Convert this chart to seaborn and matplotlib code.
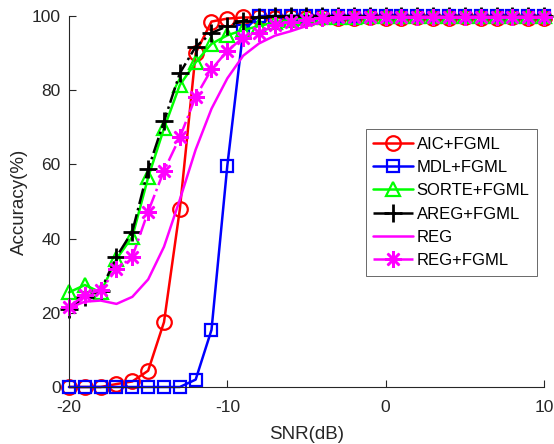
import numpy as np
import pandas as pd
import matplotlib
matplotlib.use("Agg")
import matplotlib.pyplot as plt
import seaborn as sns

# SNR grid (dB)
snr = list(range(-20, 11))

# Detection accuracy (%) of each method
aic_fgml = [0, 0, 0, 0.8, 1.5, 4.4, 17.5, 47.9, 90.0, 98.5, 99.3, 99.6, 99.6, 99.5, 99.6,
            99.5, 99.6, 99.5, 99.5, 99.6, 99.5, 99.5, 99.6, 99.5, 99.5, 99.6, 99.5, 99.5,
            99.6, 99.5, 99.5]
mdl_fgml = [0, 0, 0, 0, 0, 0, 0, 0, 2.0, 15.4, 59.7, 96.0, 100, 100, 100,
            100, 100, 100, 100, 100, 100, 100, 100, 100, 100, 100, 100, 100,
            100, 100, 100]
sorte_fgml = [25.5, 27.5, 25.5, 34.5, 40.5, 56.5, 69.7, 81.4, 87.5, 92.5, 94.8, 96.2, 97.3,
              98.3, 99.0, 99.4, 99.6, 99.8, 99.8, 99.9, 99.9, 99.9, 100, 99.9, 100, 99.9,
              100, 99.9, 100, 100, 99.9]
areg_fgml = [21.0, 24.3, 26.0, 35.1, 41.9, 58.7, 71.6, 84.6, 91.7, 95.4, 97.3, 98.7, 99.6,
             100, 100, 100, 100, 100, 100, 100, 100, 100, 100, 100, 100, 100,
             100, 100, 100, 100, 100]
reg = [21.3, 23.0, 23.3, 22.4, 24.3, 29.0, 37.8, 50.5, 64.0, 75.0, 83.2, 89.3, 92.6, 94.7,
       95.9, 97.3, 98.4, 99.1, 99.5, 99.7, 99.8, 99.8, 99.8, 99.8, 99.8, 99.8, 99.8, 99.8,
       99.8, 99.8, 99.8]
reg_fgml = [21.6, 24.8, 26.1, 31.7, 35.1, 47.3, 58.3, 67.3, 78.2, 85.6, 90.6, 94.2, 95.3,
            97.6, 98.5, 99.0, 99.4, 99.6, 99.7, 99.7, 99.8, 99.7, 99.7, 99.8, 99.7, 99.7,
            99.8, 99.7, 99.7, 99.8, 99.7]

labels = ["AIC+FGML", "MDL+FGML", "SORTE+FGML", "AREG+FGML", "REG", "REG+FGML"]
series = [aic_fgml, mdl_fgml, sorte_fgml, areg_fgml, reg, reg_fgml]

# eight-armed asterisk for the REG+FGML curve
asterisk = (8, 2, 0)

styles = [
    dict(color=(1, 0, 0), marker="o", linestyle="-", ms=10.5, mew=1.6),
    dict(color=(0, 0, 1), marker="s", linestyle="-", ms=8.5, mew=1.6),
    dict(color=(0, 1, 0), marker="^", linestyle="-", ms=10.5, mew=1.6),
    dict(color=(0, 0, 0), marker="+", linestyle="-.", ms=13, mew=2.0),
    dict(color=(1, 0, 1), marker=None, linestyle="-", ms=0, mew=0),
    dict(color=(1, 0, 1), marker=asterisk, linestyle="-.", ms=12, mew=1.8),
]

sns.set_theme(style="white")
text_color = "#262626"
plt.rcParams["font.family"] = ["Liberation Sans", "DejaVu Sans"]
plt.rcParams["axes.unicode_minus"] = False

fig = plt.figure(figsize=(5.54, 4.44), dpi=100)
ax = fig.add_axes([69 / 554, 1 - 387 / 444, 475 / 554, 371 / 444])

for lab, vals, st in zip(labels, series, styles):
    df = pd.DataFrame({"SNR": snr, "Accuracy": vals})
    kw = dict(color=st["color"], linestyle=st["linestyle"], linewidth=1.8)
    if st["marker"] is not None:
        kw.update(marker=st["marker"], markersize=st["ms"], markerfacecolor="none",
                  markeredgecolor=st["color"], markeredgewidth=st["mew"])
    sns.lineplot(data=df, x="SNR", y="Accuracy", ax=ax, label=lab, clip_on=False, **kw)

ax.set_xlim(-20, 10)
ax.set_ylim(0, 100)
ax.set_xticks([-20, -10, 0, 10])
ax.set_yticks([0, 20, 40, 60, 80, 100])
ax.set_xlabel("SNR(dB)", fontsize=13.5, color=text_color, labelpad=8)
ax.set_ylabel("Accuracy(%)", fontsize=13.5, color=text_color, labelpad=3)

for side in ("top", "right"):
    ax.spines[side].set_visible(False)
for side in ("left", "bottom"):
    ax.spines[side].set_color(text_color)
    ax.spines[side].set_linewidth(0.8)

ax.tick_params(axis="both", direction="in", length=5, width=0.8, colors=text_color,
               labelsize=12.5, left=True, bottom=True)
ax.tick_params(axis="x", pad=9)
ax.tick_params(axis="y", pad=6)

leg = ax.legend(loc="upper left", bbox_to_anchor=(0.625, 0.695), borderaxespad=0,
                fontsize=12, frameon=True, fancybox=False, handlelength=2.4,
                handletextpad=0.2, labelspacing=0.5, borderpad=0.45)
leg.get_frame().set_edgecolor("#262626")
leg.get_frame().set_linewidth(0.6)
for t in leg.get_texts():
    t.set_color("black")

fig.savefig("out.png", dpi=100)
